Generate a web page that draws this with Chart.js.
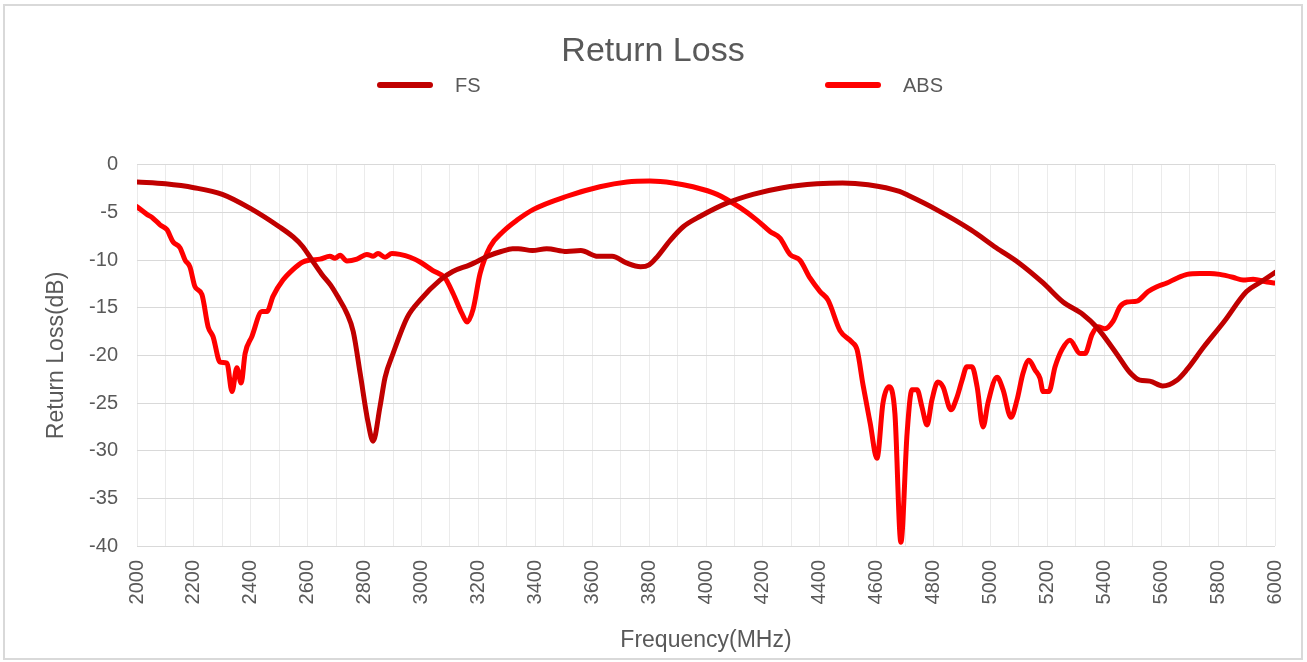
<!DOCTYPE html>
<html>
<head>
<meta charset="utf-8">
<script src="https://cdn.jsdelivr.net/npm/chart.js@4.4.1/dist/chart.umd.min.js"></script>
<style>
  body { margin: 0; background: #fff; font-family: "Liberation Sans", Arial, sans-serif; }
  #wrap { position: absolute; left: 3px; top: 4px; width: 1296px; height: 652px; border: 2px solid #d9d9d9; }
  .leg-line { position: absolute; height: 6px; border-radius: 3px; }
  .leg-text { position: absolute; font-size: 20px; color: #595959; line-height: 24px; }
</style>
</head>
<body>
<div id="wrap"><canvas id="chart" width="1296" height="652"></canvas></div>
<div class="leg-line" style="left:377px; top:82px; width:56px; background:#C00000"></div>
<div class="leg-text" style="left:455px; top:73px">FS</div>
<div class="leg-line" style="left:825px; top:82px; width:56px; background:#FF0000"></div>
<div class="leg-text" style="left:903px; top:73px">ABS</div>
<script>
// frequency (MHz) / return loss (dB)
const fsFreq = [2000, 2100, 2200, 2300, 2400, 2500, 2550, 2583, 2615, 2650, 2680, 2705, 2738, 2760, 2785, 2812, 2830,
  2854, 2872, 2900, 2950, 2995, 3065, 3110, 3170, 3240, 3280, 3320, 3340, 3390, 3440, 3510, 3560, 3620, 3670, 3720,
  3770, 3800, 3830, 3875, 3920, 3980, 4075, 4165, 4270, 4390, 4480, 4570, 4680, 4710, 4810, 4930, 5020, 5100, 5185,
  5255, 5325, 5375, 5445, 5490, 5525, 5560, 5605, 5655, 5690, 5750, 5820, 5900, 5950, 6000];
const fsLoss = [-1.8, -2.0, -2.4, -3.1, -4.6, -6.5, -7.6, -8.6, -10.0, -11.5, -12.6, -13.8, -15.6, -17.5, -22.0, -27.0, -29.0,
  -25.4, -22.3, -19.8, -16.0, -14.2, -12.1, -11.2, -10.5, -9.5, -9.1, -8.8, -8.8, -9.0, -8.8, -9.1, -9.0, -9.6, -9.6, -10.3,
  -10.7, -10.5, -9.6, -7.9, -6.5, -5.4, -4.0, -3.1, -2.4, -2.0, -1.9, -2.1, -2.8, -3.2, -4.7, -6.8, -8.7, -10.3, -12.4,
  -14.4, -15.7, -17.1, -19.9, -21.8, -22.6, -22.7, -23.2, -22.6, -21.5, -19.1, -16.5, -13.3, -12.3, -11.3];

const absFreq = [2000, 2035, 2056, 2081, 2105, 2127, 2151, 2169, 2186, 2204, 2228, 2250, 2267, 2292, 2316, 2334, 2351,
  2366, 2380, 2404, 2439, 2457, 2478, 2513, 2548, 2583, 2608, 2643, 2678, 2696, 2714, 2738, 2773, 2808, 2830, 2847,
  2872, 2896, 2924, 2960, 2995, 3040, 3083, 3111, 3142, 3160, 3181, 3206, 3241, 3287, 3336, 3392, 3511, 3627, 3722,
  3803, 3884, 3954, 4039, 4120, 4179, 4225, 4260, 4295, 4330, 4366, 4401, 4429, 4471, 4513, 4531, 4552, 4577, 4601,
  4622, 4643, 4664, 4685, 4707, 4724, 4742, 4759, 4777, 4794, 4815, 4833, 4861, 4882, 4900, 4917, 4935, 4953, 4974,
  4991, 5023, 5044, 5072, 5093, 5114, 5135, 5156, 5174, 5185, 5205, 5227, 5251, 5279, 5315, 5332, 5357, 5378, 5402,
  5431, 5455, 5480, 5515, 5554, 5585, 5620, 5655, 5691, 5736, 5771, 5806, 5852, 5888, 5923, 5972, 6000];
const absLoss = [-4.4, -5.2, -5.6, -6.3, -6.8, -8.1, -8.7, -10.0, -10.7, -12.8, -13.6, -17.0, -18.0, -20.7, -20.8, -23.8, -21.3,
  -22.9, -19.8, -18.0, -15.4, -15.4, -13.8, -12.1, -11.0, -10.2, -10.0, -9.9, -9.6, -9.8, -9.5, -10.1, -9.9, -9.4, -9.6, -9.3,
  -9.7, -9.3, -9.4, -9.7, -10.2, -11.1, -11.9, -13.5, -15.6, -16.5, -15.2, -11.4, -8.6, -7.0, -5.8, -4.7, -3.3, -2.3, -1.8,
  -1.7, -1.9, -2.3, -3.1, -4.5, -5.8, -7.0, -7.7, -9.4, -10.0, -11.9, -13.3, -14.2, -17.4, -18.6, -19.4, -23.1, -27.1, -30.8,
  -25.0, -23.3, -26.1, -39.6, -28.1, -23.6, -23.6, -25.4, -27.3, -24.7, -22.8, -23.3, -25.7, -24.4, -22.6, -21.2, -21.2, -23.3, -27.5,
  -25.0, -22.3, -23.6, -26.5, -24.7, -21.9, -20.5, -21.5, -22.4, -23.8, -23.8, -21.2, -19.4, -18.4, -19.8, -19.8, -17.8, -17.0, -17.2,
  -16.4, -14.9, -14.4, -14.3, -13.3, -12.8, -12.4, -11.9, -11.5, -11.4, -11.4, -11.5, -11.8, -12.1, -12.0, -12.3, -12.4];

const textColor = '#595959';
const fontFamily = '"Liberation Sans", Arial, sans-serif';

const toPoints = (xs, ys) => xs.map((x, i) => ({ x: x, y: ys[i] }));

const ctx = document.getElementById('chart').getContext('2d');
new Chart(ctx, {
  type: 'line',
  data: {
    datasets: [
      {
        label: 'FS',
        data: toPoints(fsFreq, fsLoss),
        borderColor: '#C00000',
        borderWidth: 5,
        pointRadius: 0,
        cubicInterpolationMode: 'monotone',
        borderCapStyle: 'round',
        borderJoinStyle: 'round',
        fill: false,
      },
      {
        label: 'ABS',
        data: toPoints(absFreq, absLoss),
        borderColor: '#FF0000',
        borderWidth: 5,
        pointRadius: 0,
        cubicInterpolationMode: 'monotone',
        borderCapStyle: 'round',
        borderJoinStyle: 'round',
        fill: false,
      },
    ],
  },
  options: {
    responsive: false,
    animation: false,
    layout: { padding: 0 },
    plugins: {
      legend: { display: false },
      tooltip: { enabled: false },
      title: {
        display: true,
        text: 'Return Loss',
        color: textColor,
        font: { family: fontFamily, size: 34, weight: 'normal' },
        padding: { top: 25, bottom: 93 },
      },
    },
    scales: {
      x: {
        type: 'linear',
        min: 2000,
        max: 6000,
        afterFit: s => {
          s.height = 112;
          s.paddingLeft = 0;
          s.paddingRight = 26;
        },
        border: { display: false },
        grid: { color: '#ebebeb', lineWidth: 1, drawTicks: false },
        ticks: {
          stepSize: 100,
          autoSkip: false,
          minRotation: 90,
          maxRotation: 90,
          padding: 14,
          color: textColor,
          font: { family: fontFamily, size: 20 },
          callback: v => (v % 200 === 0 ? String(v) : ''),
        },
        title: {
          display: true,
          text: 'Frequency(MHz)',
          color: textColor,
          font: { family: fontFamily, size: 23 },
          padding: { top: 0, bottom: 4 },
        },
      },
      y: {
        min: -40,
        max: 0,
        afterFit: s => { s.width = 132; },
        border: { display: false },
        grid: { color: '#d9d9d9', lineWidth: 1, drawTicks: false },
        ticks: {
          stepSize: 5,
          padding: 19,
          color: textColor,
          font: { family: fontFamily, size: 20 },
        },
        title: {
          display: true,
          text: 'Return Loss(dB)',
          color: textColor,
          font: { family: fontFamily, size: 23 },
          padding: { top: 38, bottom: 0 },
        },
      },
    },
  },
});
</script>
</body>
</html>
